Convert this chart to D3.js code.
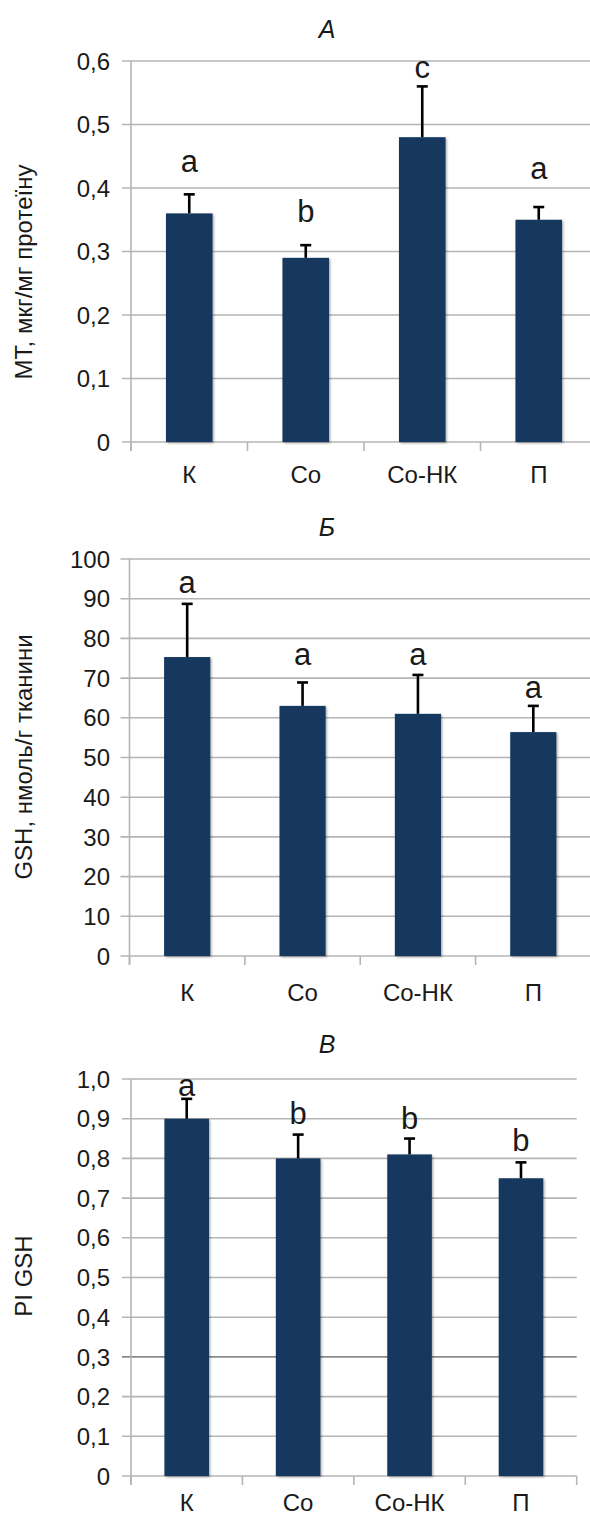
<!DOCTYPE html>
<html>
<head>
<meta charset="utf-8">
<script src="https://cdn.jsdelivr.net/npm/d3@7"></script>
<style>
  html, body { margin: 0; padding: 0; background: #fff; }
  svg { display: block; }
  text { font-family: "Liberation Sans", Arial, sans-serif; fill: #1a1a1a; }
</style>
</head>
<body>
<svg id="chart" width="590" height="1520"></svg>
<script>
// ---------- data ----------
const categories = ["К", "Co", "Co-НК", "П"];

// Panel А – MT
const mtValues  = [0.36, 0.29, 0.48, 0.35];
const mtErrors  = [0.03, 0.02, 0.08, 0.02];
const mtLetters = ["a", "b", "c", "a"];
const mtLetterAt = [0.443, 0.364, 0.591, 0.431];
const mtTicks = [0, 0.1, 0.2, 0.3, 0.4, 0.5, 0.6];

// Panel Б – GSH
const gshValues  = [75.3, 63.0, 61.0, 56.4];
const gshErrors  = [13.4, 5.9, 9.8, 6.6];
const gshLetters = ["a", "a", "a", "a"];
const gshLetterAt = [94.3, 76.0, 76.0, 67.8];
const gshTicks = [0, 10, 20, 30, 40, 50, 60, 70, 80, 90, 100];

// Panel В – PI GSH
const piValues  = [0.90, 0.80, 0.81, 0.75];
const piErrors  = [0.05, 0.06, 0.04, 0.04];
const piLetters = ["a", "b", "b", "b"];
const piLetterAt = [0.985, 0.916, 0.903, 0.847];
const piTicks = [0, 0.1, 0.2, 0.3, 0.4, 0.5, 0.6, 0.7, 0.8, 0.9, 1.0];

// ---------- drawing ----------
const svg = d3.select("#chart");
const defs = svg.append("defs");
defs.append("filter").attr("id", "shadow")
  .attr("x", "-20%").attr("y", "-5%").attr("width", "140%").attr("height", "110%")
  .append("feDropShadow")
  .attr("dx", 1.2).attr("dy", 1.2).attr("stdDeviation", 1.2)
  .attr("flood-color", "#000").attr("flood-opacity", 0.35);

const BAR = "#14375e";
const GRID = "#b5b5b5";

function drawPanel(p) {
  const g = svg.append("g");
  const x = d3.scaleBand().domain(categories)
    .range([p.left, p.right]).paddingInner(0.6).paddingOuter(0.3);
  const y = d3.scaleLinear().domain([0, p.max]).range([p.zeroY, p.topY]);

  // gridlines with left ticks
  g.append("g").selectAll("line").data(p.ticks).join("line")
    .attr("x1", p.left - 9).attr("x2", p.right)
    .attr("y1", d => y(d)).attr("y2", d => y(d))
    .attr("stroke", d => (p.darkTick !== undefined && d === p.darkTick) ? "#8a8a8a" : GRID)
    .attr("stroke-width", 1.6);

  // y axis line
  g.append("line")
    .attr("x1", p.left).attr("x2", p.left)
    .attr("y1", y(p.max)).attr("y2", p.zeroY + 9)
    .attr("stroke", GRID).attr("stroke-width", 1.6);

  // x ticks at band boundaries
  const bounds = categories.map(c => x(c) - x.step() * 0.3).concat([p.right]);
  g.append("g").selectAll("line").data(bounds).join("line")
    .attr("x1", d => d).attr("x2", d => d)
    .attr("y1", p.zeroY).attr("y2", p.zeroY + 9)
    .attr("stroke", GRID).attr("stroke-width", 1.6);

  // tick labels
  g.append("g").selectAll("text").data(p.ticks).join("text")
    .attr("x", 110).attr("y", d => y(d))
    .attr("dy", "0.36em")
    .attr("text-anchor", "end")
    .attr("font-size", 24)
    .text(d => p.fmt(d));

  // bars
  g.append("g").selectAll("rect").data(p.values).join("rect")
    .attr("x", (d, i) => x(categories[i]))
    .attr("width", x.bandwidth())
    .attr("y", d => y(d))
    .attr("height", d => p.zeroY - y(d))
    .attr("fill", BAR)
    .attr("filter", "url(#shadow)");

  // error bars
  const eb = g.append("g").attr("stroke", "#000").attr("stroke-width", 2.6);
  p.values.forEach((v, i) => {
    const cx = x(categories[i]) + x.bandwidth() / 2;
    eb.append("line").attr("x1", cx).attr("x2", cx)
      .attr("y1", y(v)).attr("y2", y(v + p.errors[i]));
    eb.append("line").attr("x1", cx - 5.5).attr("x2", cx + 5.5)
      .attr("y1", y(v + p.errors[i])).attr("y2", y(v + p.errors[i]));
  });

  // significance letters
  g.append("g").selectAll("text").data(p.letters).join("text")
    .attr("x", (d, i) => x(categories[i]) + x.bandwidth() / 2)
    .attr("y", (d, i) => y(p.letterAt[i]))
    .attr("dy", "0.36em")
    .attr("text-anchor", "middle")
    .attr("font-size", 31)
    .text(d => d);

  // category labels
  g.append("g").selectAll("text").data(categories).join("text")
    .attr("x", d => x(d) + x.bandwidth() / 2)
    .attr("y", p.labelY)
    .attr("text-anchor", "middle")
    .attr("font-size", 24)
    .text(d => d);

  // panel title
  g.append("text")
    .attr("x", 327).attr("y", p.titleY)
    .attr("text-anchor", "middle")
    .attr("font-size", 25)
    .attr("font-style", "italic")
    .text(p.title);

  // y-axis title
  g.append("text")
    .attr("transform", `translate(32,${p.yTitleCenter}) rotate(-90)`)
    .attr("text-anchor", "middle")
    .attr("font-size", 24)
    .text(p.yTitle);
}

const fmtComma1 = d => d3.format(".1f")(d).replace(".", ",");
const fmtMT = d => d === 0 ? "0" : fmtComma1(d);

drawPanel({
  title: "А", titleY: 38,
  yTitle: "МТ, мкг/мг протеїну", yTitleCenter: 272,
  values: mtValues, errors: mtErrors, letters: mtLetters, letterAt: mtLetterAt,
  ticks: mtTicks, max: 0.6, fmt: fmtMT,
  left: 131, right: 597, zeroY: 442, topY: 61, labelY: 483
});

drawPanel({
  title: "Б", titleY: 536,
  yTitle: "GSH, нмоль/г тканини", yTitleCenter: 757,
  values: gshValues, errors: gshErrors, letters: gshLetters, letterAt: gshLetterAt,
  ticks: gshTicks, max: 100, fmt: d => String(d),
  left: 129.5, right: 591, zeroY: 956, topY: 559, labelY: 1001
});

drawPanel({
  title: "В", titleY: 1053,
  yTitle: "PI GSH", yTitleCenter: 1276,
  values: piValues, errors: piErrors, letters: piLetters, letterAt: piLetterAt,
  ticks: piTicks, max: 1.0, fmt: fmtMT, darkTick: 0.3,
  left: 131, right: 576.7, zeroY: 1476, topY: 1079, labelY: 1511
});
</script>
</body>
</html>
